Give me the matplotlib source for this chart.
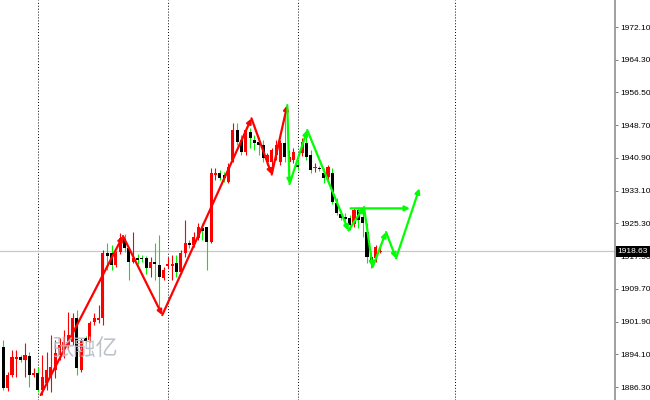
"""MT4-style candlestick chart with zigzag arrows."""

import matplotlib
import matplotlib.pyplot as plt
from matplotlib.transforms import blended_transform_factory

matplotlib.use("AGG")

# candles, one per bar (bar index = list position)
opens = [
    1895.85, 1886.08, 1889.17, 1892.99, 1893.47, 1892.75, 1893.70, 1889.17, 1889.65, 1885.60,
    1887.27, 1888.70, 1890.37, 1893.94, 1895.13, 1896.32, 1897.04, 1902.76, 1890.37, 1897.99,
    1897.52, 1901.81, 1902.28, 1902.76, 1918.25, 1918.25, 1915.39, 1918.49, 1921.59, 1919.44,
    1916.11, 1917.06, 1917.06, 1917.06, 1914.68, 1916.11, 1915.39, 1912.29, 1915.15, 1915.15,
    1915.87, 1913.72, 1918.25, 1920.63, 1920.16, 1921.82, 1924.21, 1924.44, 1920.87, 1936.84,
    1937.31, 1936.84, 1935.17, 1940.41, 1947.56, 1945.18, 1942.32, 1947.08, 1945.18, 1944.70,
    1943.99, 1939.94, 1939.94, 1941.60, 1939.94, 1944.46, 1939.94, 1940.41, 1939.22, 1942.08,
    1944.46, 1941.60, 1938.51, 1938.51, 1937.31, 1936.36, 1937.31, 1930.17, 1927.54, 1926.83,
    1926.59, 1925.16, 1928.50, 1926.83, 1923.25, 1917.30, 1917.06, 1918.49,
]
highs = [
    1897.52, 1889.89, 1895.13, 1895.13, 1893.94, 1896.80, 1894.66, 1890.84, 1891.08, 1893.94,
    1894.66, 1898.71, 1897.52, 1897.99, 1899.90, 1904.19, 1903.95, 1904.67, 1897.99, 1898.47,
    1902.04, 1903.95, 1905.86, 1918.96, 1920.63, 1920.16, 1918.73, 1923.02, 1922.78, 1919.68,
    1923.25, 1918.01, 1917.77, 1917.53, 1917.30, 1920.63, 1922.54, 1914.91, 1917.30, 1917.77,
    1917.77, 1918.96, 1926.11, 1921.35, 1923.25, 1925.40, 1925.40, 1924.44, 1938.51, 1938.51,
    1938.03, 1937.55, 1939.70, 1949.23, 1949.23, 1946.37, 1948.28, 1948.04, 1946.37, 1945.89,
    1945.18, 1942.08, 1943.27, 1945.18, 1945.18, 1952.80, 1942.80, 1943.27, 1940.41, 1945.65,
    1947.32, 1942.80, 1939.70, 1938.98, 1938.51, 1939.22, 1938.51, 1931.36, 1928.50, 1927.78,
    1927.31, 1928.97, 1929.21, 1929.21, 1925.40, 1918.49, 1920.16, 1919.68,
]
lows = [
    1885.60, 1885.36, 1888.70, 1888.70, 1892.27, 1888.70, 1886.31, 1888.70, 1885.12, 1884.41,
    1885.60, 1885.12, 1888.46, 1892.75, 1893.23, 1895.13, 1896.32, 1889.17, 1889.89, 1896.80,
    1897.04, 1901.09, 1901.57, 1901.09, 1914.20, 1914.20, 1914.91, 1918.01, 1918.49, 1911.82,
    1915.87, 1915.63, 1916.11, 1913.25, 1912.53, 1911.82, 1904.19, 1911.82, 1914.68, 1911.82,
    1912.53, 1913.25, 1917.30, 1919.44, 1919.68, 1921.35, 1921.35, 1914.20, 1920.63, 1935.65,
    1935.65, 1935.17, 1934.93, 1939.94, 1943.99, 1941.60, 1941.60, 1943.27, 1942.80, 1941.60,
    1939.94, 1939.22, 1937.31, 1940.41, 1939.22, 1939.94, 1934.93, 1939.70, 1938.03, 1941.37,
    1940.41, 1937.31, 1937.55, 1937.79, 1934.93, 1935.65, 1929.93, 1927.31, 1926.11, 1924.92,
    1923.73, 1924.44, 1924.21, 1922.06, 1915.87, 1914.68, 1916.11, 1918.25,
]
closes = [
    1886.08, 1889.17, 1893.47, 1893.47, 1892.75, 1893.94, 1889.17, 1889.65, 1885.60, 1888.70,
    1890.37, 1891.08, 1894.42, 1896.32, 1897.04, 1898.71, 1902.76, 1890.84, 1897.52, 1897.28,
    1901.57, 1902.76, 1902.76, 1918.25, 1917.53, 1915.39, 1918.25, 1921.82, 1919.44, 1916.11,
    1917.06, 1916.58, 1916.82, 1914.68, 1916.11, 1915.63, 1912.53, 1914.20, 1915.63, 1915.63,
    1913.72, 1918.25, 1920.63, 1920.16, 1922.06, 1924.44, 1923.49, 1920.87, 1937.31, 1937.31,
    1936.12, 1936.12, 1938.74, 1947.56, 1944.70, 1942.32, 1947.56, 1945.65, 1944.46, 1943.99,
    1940.89, 1941.60, 1942.80, 1943.99, 1944.46, 1941.13, 1941.13, 1942.32, 1938.74, 1944.70,
    1941.13, 1938.03, 1938.74, 1938.27, 1936.12, 1938.74, 1930.40, 1927.78, 1926.59, 1926.35,
    1924.92, 1928.50, 1926.11, 1925.40, 1917.30, 1916.58, 1919.68, 1918.63,
]

# zigzag swings (bar, price)
red_swing_bars = [8.64, 27.64, 36.72, 57.32, 61.99, 65.59]
red_swing_prices = [1884.40, 1922.29, 1903.46, 1950.34, 1936.95, 1953.51]
green_swing_bars = [65.59, 66.10, 70.20, 79.72, 83.30, 85.30, 88.40, 90.70, 96.10]
green_swing_prices = [1953.51, 1934.68, 1947.55, 1923.60, 1929.20, 1914.90, 1923.24, 1916.98, 1933.66]
level_bars = [80.2, 93.9]
level_price = 1928.89

separator_bars = [8, 38, 68, 104.3]
price_ticks = [1886.30, 1894.10, 1901.90, 1909.70, 1917.50, 1925.30,
               1933.10, 1940.90, 1948.70, 1956.50, 1964.30, 1972.10]
last_price = 1918.63
watermark = "张融亿"

BULL = "#ff0000"
BEAR_WICK = "#00ee00"
ZIGZAG_GREEN = "#00ff00"


def draw_candles(ax):
    """Red candles up, black body with green wick down."""
    for i, (o, h, l, c) in enumerate(zip(opens, highs, lows, closes)):
        up = c >= o
        ax.vlines(i, l, h, color=BULL if up else BEAR_WICK, linewidth=0.8, zorder=3)
        height = max(abs(c - o), 0.3)
        ax.bar(i, height, bottom=min(o, c), width=0.72,
               color=BULL if up else "#000000", linewidth=0, zorder=4)


def draw_zigzag(ax, xs, ys, color):
    for x0, y0, x1, y1 in zip(xs[:-1], ys[:-1], xs[1:], ys[1:]):
        ax.annotate("", xy=(x1, y1), xytext=(x0, y0), zorder=5,
                    arrowprops=dict(arrowstyle="-|>", color=color, lw=1.6,
                                    mutation_scale=7, shrinkA=0, shrinkB=0))


fig = plt.figure(figsize=(6.5, 4.0), dpi=100)
ax = fig.add_axes([0, 0, 615 / 650, 1])

for x in separator_bars:
    ax.axvline(x, color="#000000", linewidth=0.7, linestyle=(0, (1, 2)), zorder=1)
ax.axhline(last_price, color="#c8c8c8", linewidth=0.9, zorder=1)

draw_candles(ax)
draw_zigzag(ax, red_swing_bars, red_swing_prices, BULL)
draw_zigzag(ax, green_swing_bars, green_swing_prices, ZIGZAG_GREEN)
ax.annotate("", xy=(level_bars[1], level_price), xytext=(level_bars[0], level_price), zorder=5,
            arrowprops=dict(arrowstyle="-|>", color=ZIGZAG_GREEN, lw=1.6,
                            mutation_scale=7, shrinkA=0, shrinkB=0))

# watermark sits on top of the candles
ax.text(0.137, 0.127, watermark, transform=ax.transAxes, ha="center", va="center",
        fontsize=16, color="#b4bcc6", alpha=0.9,
        family=["Noto Sans CJK SC", "DejaVu Sans"], zorder=7)

ax.set_xlim(-0.76, 141.27)
ax.set_ylim(1883.22, 1978.54)
ax.set_xticks([])
ax.yaxis.tick_right()
ax.set_yticks(price_ticks)
ax.set_yticklabels(["{:.2f}".format(p) for p in price_ticks], fontsize=6,
                   family="Liberation Sans")
ax.tick_params(axis="y", direction="out", length=2.5, width=0.7, color="#808080", pad=1.5)
for side in ["left", "top", "bottom"]:
    ax.spines[side].set_visible(False)
ax.spines["right"].set_color("#909090")
ax.spines["right"].set_linewidth(1.2)

tr = blended_transform_factory(ax.transAxes, ax.transData)
ax.text(1.004, last_price, "{:.2f}".format(last_price), transform=tr, ha="left", va="center",
        fontsize=6, family="Liberation Sans", color="white", zorder=6,
        bbox=dict(facecolor="black", edgecolor="none", pad=1.2))

fig.savefig("out.png", dpi=100)
